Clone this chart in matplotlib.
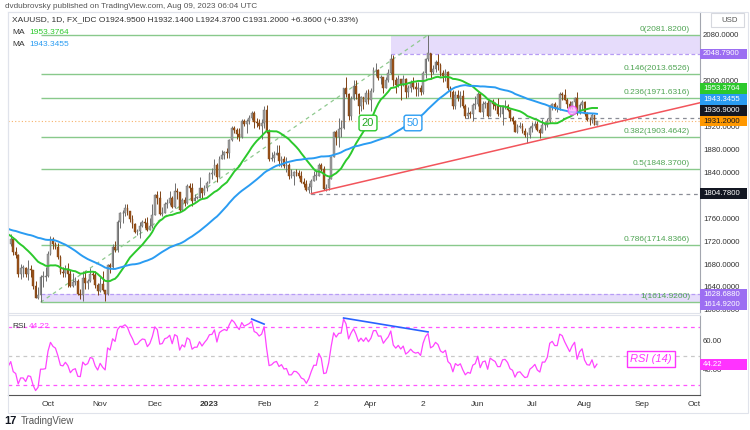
import numpy as np
import pandas as pd
import matplotlib
matplotlib.use("Agg")
import matplotlib.pyplot as plt
import matplotlib.transforms as mtransforms
from matplotlib.patches import Rectangle

plt.rcParams['font.family'] = ['Liberation Sans', 'DejaVu Sans']

# ---- data (XAUUSD daily) ----
# closes before the visible window, only used to warm up the MAs / RSI
warmup_close = [1811,
                1808, 1764, 1739, 1740, 1742,
                1733, 1725, 1735, 1711, 1708,
                1709, 1711, 1696, 1719, 1727,
                1719, 1717, 1735, 1756, 1766,
                1772, 1760, 1765, 1791, 1775,
                1789, 1794, 1792, 1789, 1802,
                1779, 1775, 1761, 1758, 1747,
                1736, 1748, 1751, 1758, 1737,
                1724, 1723, 1711, 1697, 1712,
                1710, 1702, 1718, 1708, 1717]

# visible bars, Sep 12 2022 -> Aug 8 2023, one week per row
close = [1725, 1702, 1697, 1665, 1675,
         1675, 1664, 1673, 1671, 1644,
         1623, 1628, 1660, 1660, 1661,
         1699, 1725, 1716, 1712, 1694,
         1668, 1666, 1674, 1665, 1644,
         1650, 1652, 1629, 1628, 1657,
         1649, 1652, 1665, 1663, 1645,
         1634, 1647, 1637, 1630, 1681,
         1676, 1712, 1706, 1755, 1771,
         1771, 1779, 1774, 1761, 1751,
         1738, 1740, 1749, 1755, 1754,
         1741, 1749, 1768, 1803, 1798,
         1769, 1771, 1786, 1789, 1797,
         1781, 1810, 1807, 1777, 1793,
         1788, 1818, 1814, 1792, 1798,
         1798, 1814, 1805, 1815, 1824,
         1839, 1840, 1855, 1833, 1865,
         1872, 1877, 1875, 1898, 1920,
         1916, 1909, 1904, 1932, 1926,
         1931, 1936, 1946, 1930, 1928,
         1923, 1928, 1951, 1912, 1865,
         1867, 1873, 1875, 1861, 1865,
         1853, 1854, 1836, 1836, 1842,
         1841, 1835, 1825, 1822, 1811,
         1817, 1827, 1836, 1836, 1855,
         1847, 1813, 1814, 1831, 1868,
         1913, 1904, 1918, 1919, 1989,
         1978, 1941, 1970, 1993, 1978,
         1957, 1973, 1964, 1980, 1969,
         1984, 2020, 2021, 2007, 2008,
         1990, 2003, 2015, 2040, 2004,
         1995, 2005, 1995, 2005, 1983,
         1989, 1998, 1991, 1988, 1990,
         1983, 2016, 2039, 2050, 2017,
         2022, 2035, 2030, 2015, 2011,
         2017, 1989, 1982, 1958, 1977,
         1971, 1975, 1957, 1941, 1946,
         1943, 1959, 1962, 1978, 1948,
         1961, 1963, 1940, 1966, 1961,
         1957, 1943, 1943, 1957, 1958,
         1951, 1936, 1932, 1913, 1921,
         1922, 1914, 1907, 1908, 1919,
         1922, 1926, 1915, 1911, 1925,
         1925, 1932, 1957, 1961, 1955,
         1955, 1979, 1977, 1969, 1962,
         1955, 1965, 1972, 1945, 1959,
         1965, 1944, 1934, 1933, 1942,
         1925, 1931.2]

high = [1735, 1729, 1712, 1700, 1682,
        1681, 1677, 1688, 1681, 1671,
        1653, 1641, 1662, 1670, 1677,
        1704, 1730, 1729, 1721, 1719,
        1698, 1677, 1680, 1683, 1672,
        1667, 1660, 1656, 1638, 1670,
        1669, 1656, 1675, 1670, 1669,
        1649, 1660, 1669, 1636, 1682,
        1683, 1717, 1722, 1758, 1772,
        1776, 1787, 1786, 1775, 1767,
        1753, 1743, 1755, 1759, 1762,
        1764, 1763, 1786, 1804, 1810,
        1809, 1782, 1791, 1795, 1810,
        1800, 1824, 1814, 1808, 1797,
        1799, 1822, 1823, 1823, 1804,
        1800, 1833, 1814, 1819, 1826,
        1842, 1850, 1865, 1859, 1870,
        1881, 1880, 1885, 1901, 1922,
        1922, 1920, 1919, 1935, 1935,
        1935, 1942, 1949, 1949, 1937,
        1935, 1935, 1957, 1960, 1918,
        1878, 1880, 1890, 1890, 1871,
        1870, 1869, 1858, 1847, 1845,
        1847, 1846, 1845, 1832, 1828,
        1824, 1831, 1845, 1844, 1858,
        1858, 1853, 1821, 1835, 1870,
        1914, 1915, 1937, 1933, 1990,
        2009, 1981, 1975, 2003, 2003,
        1980, 1975, 1974, 1986, 1987,
        1990, 2025, 2032, 2022, 2012,
        2007, 2009, 2022, 2048.79, 2047,
        2008, 2012, 2005, 2012, 2007,
        1994, 2004, 2009, 1999, 2000,
        1994, 2019, 2041, 2081.82, 2050,
        2030, 2038, 2048, 2033, 2021,
        2022, 2019, 1993, 1985, 1984,
        1985, 1984, 1985, 1961, 1956,
        1949, 1963, 1975, 1983, 1983,
        1966, 1966, 1969, 1969, 1970,
        1964, 1971, 1960, 1959, 1968,
        1961, 1953, 1941, 1934, 1926,
        1930, 1928, 1919, 1912, 1922,
        1930, 1932, 1931, 1919, 1935,
        1930, 1937, 1960, 1963, 1964,
        1959, 1983, 1982, 1987, 1972,
        1966, 1966, 1974, 1983, 1963,
        1969, 1966, 1947, 1938, 1946,
        1942, 1932.14]

low = [1713, 1697, 1692, 1659, 1655,
       1659, 1660, 1654, 1660, 1639,
       1622, 1620, 1614.92, 1641, 1653,
       1659, 1697, 1708, 1708, 1691,
       1665, 1660, 1660, 1642, 1641,
       1641, 1646, 1627, 1621, 1618,
       1638, 1639, 1651, 1656, 1640,
       1627, 1633, 1634, 1617, 1628,
       1666, 1673, 1703, 1703, 1745,
       1754, 1765, 1767, 1755, 1745,
       1736, 1733, 1727, 1746, 1745,
       1739, 1741, 1744, 1767, 1787,
       1767, 1765, 1771, 1780, 1785,
       1779, 1779, 1796, 1773, 1774,
       1784, 1786, 1807, 1784, 1792,
       1796, 1797, 1797, 1803, 1809,
       1824, 1830, 1838, 1825, 1833,
       1866, 1866, 1867, 1867, 1896,
       1910, 1900, 1897, 1902, 1922,
       1911, 1927, 1933, 1919, 1921,
       1917, 1900, 1920, 1910, 1861,
       1861, 1860, 1872, 1853, 1852,
       1850, 1843, 1830, 1832, 1819,
       1835, 1832, 1823, 1817, 1809,
       1805, 1804.78, 1826, 1829, 1835,
       1844, 1811, 1809, 1811, 1832,
       1869, 1890, 1886, 1904, 1918,
       1973, 1934, 1934, 1968, 1970,
       1944, 1949, 1952, 1961, 1962,
       1949, 1983, 2010, 2003, 1997,
       1981, 1989, 1999, 2014, 1992,
       1981, 1991, 1969, 1992, 1972,
       1974, 1982, 1987, 1975, 1975,
       1977, 1979, 2007, 2036, 2005,
       2014, 2017, 2020, 2010, 2000,
       2001, 1985, 1973, 1952, 1952,
       1966, 1956, 1955, 1936, 1937,
       1937, 1932, 1952, 1958, 1947,
       1938, 1955, 1939, 1940, 1953,
       1951, 1940, 1939, 1925, 1952,
       1949, 1931, 1926, 1912, 1910,
       1919, 1910, 1903, 1893, 1902,
       1912, 1920, 1914, 1902, 1910,
       1916, 1921, 1928, 1951, 1950,
       1947, 1951, 1969, 1968, 1954,
       1953, 1952, 1955, 1942, 1943,
       1953, 1941, 1932, 1925, 1928,
       1924, 1924.37]

last_open = 1924.95

fib_levels = [0, 0.146, 0.236, 0.382, 0.5, 0.786, 1]
fib_prices = [2081.82, 2013.6526, 1971.6316, 1903.4642, 1848.37, 1714.8366, 1614.92]
fib_start = '2022-09-28'
fib_end = '2023-05-04'

box_top = [2048.79, 2081.82]        # upper purple zone (from Apr 13)
box_bottom = [1614.92, 1628.688]    # lower purple zone (from Sep 28)
support_dates = ['2023-02-28', '2023-06-29']
support_prices = [1804.78, 1893.0]
hline_1804 = 1804.78
hline_1936 = 1936.90
hline_1936_start = '2023-05-25'

rsi_div_dates = [['2023-01-25', '2023-02-01'], ['2023-03-17', '2023-05-04']]
rsi_div_values = [[75.5, 72.0], [76.2, 66.6]]
rsi_last = 44.22

# right axis labels that are not hidden behind a price tag
price_ticks = [1600, 1640, 1680, 1720, 1760, 1840, 1880, 1920, 2000, 2080]

tick_dates = ['2022-10-03', '2022-11-01', '2022-12-01', '2023-01-02', '2023-02-01',
              '2023-03-02', '2023-04-03', '2023-05-02', '2023-06-01', '2023-07-03',
              '2023-08-01', '2023-09-01', '2023-10-02']
tick_labels = ['Oct', 'Nov', 'Dec', '2023', 'Feb', '2', 'Apr', '2', 'Jun', 'Jul',
               'Aug', 'Sep', 'Oct']

assert len(close) == len(high) == len(low)

# ---- series ----
n_warm = len(warmup_close)
all_close = pd.Series(warmup_close + close, dtype=float)
dates = pd.bdate_range('2022-07-01', periods=len(all_close) + 60)
pos = {d.strftime('%Y-%m-%d'): i for i, d in enumerate(dates)}

ma20 = all_close.rolling(20).mean()
ma50 = all_close.rolling(50).mean()
delta = all_close.diff()
up = delta.clip(lower=0).ewm(alpha=1 / 14, adjust=False).mean()
dn = (-delta.clip(upper=0)).ewm(alpha=1 / 14, adjust=False).mean()
rsi = 100 - 100 / (1 + up / dn)

c = np.array(close, dtype=float)
o = all_close.values[n_warm - 1:-1].copy()
o[-1] = last_open
h = np.maximum(np.array(high, dtype=float), np.maximum(o, c))
l = np.minimum(np.array(low, dtype=float), np.minimum(o, c))
xs = np.arange(n_warm, n_warm + len(c))

# ---- layout (pixels of a 750x430 picture) ----
W, H = 750, 430
i0 = pos['2022-10-03']
PXB = 2.484                          # px per bar
PPU = 0.5727                         # px per price unit


def px2price(y):
    return 2080 - (y - 36) / PPU


def px2rsi(y):
    return 70 - (y - 327) / 1.45


xlim = (i0 - (48 - 8) / PXB, i0 + (700 - 48) / PXB)
x_right = xlim[1]

fig = plt.figure(figsize=(W / 100, H / 100), dpi=100)
fig.patch.set_facecolor('white')
ax = fig.add_axes([8 / W, 1 - 313 / H, 692 / W, 301 / H])
rax = fig.add_axes([8 / W, 1 - 395 / H, 692 / W, 80 / H])

for a in (ax, rax):
    a.set_xlim(*xlim)
    a.set_facecolor('white')
    for s in a.spines.values():
        s.set_color('#e0e3eb')
        s.set_linewidth(0.8)
    a.spines['right'].set_color('#a3a6af')
    a.tick_params(left=False, right=False, labelleft=False)
ax.set_xticks([])
rax.spines['bottom'].set_color('#555555')

ax.set_ylim(px2price(313), px2price(12))
rax.set_ylim(px2rsi(395), px2rsi(315))

fib_green = '#89c98b'
fib_text = '#4fa453'
purple = '#9c6ef2'

# purple zones
x_box1 = pos['2023-04-13']
ax.add_patch(Rectangle((x_box1, box_top[0]), x_right - x_box1, box_top[1] - box_top[0],
                       facecolor='#e6dcfb', edgecolor='none', zorder=1))
ax.hlines(box_top[0], x_box1, x_right, colors='#b79cf5', linestyles=(0, (3, 2)), lw=0.9, zorder=2)
x_box2 = pos[fib_start]
ax.add_patch(Rectangle((x_box2, box_bottom[0]), x_right - x_box2, box_bottom[1] - box_bottom[0],
                       facecolor='#e6dcfb', edgecolor='none', zorder=1))
ax.hlines(box_bottom[1], x_box2, x_right, colors='#b79cf5', linestyles=(0, (3, 2)), lw=0.9, zorder=2)

# fibonacci levels
x_fib = pos[fib_start]
ax.hlines(fib_prices, x_fib, x_right, colors=fib_green, lw=1.0, zorder=2)
x_lab = i0 + (690 - 48) / PXB
off = mtransforms.offset_copy(ax.transData, fig=fig, x=0, y=1.5, units='points')
for lvl, p in zip(fib_levels, fib_prices):
    ax.text(x_lab, p, '%g(%.4f)' % (lvl, p), transform=off, ha='right', va='bottom',
            fontsize=6, color=fib_text, zorder=6)
ax.plot([pos[fib_start], pos[fib_end]], [fib_prices[-1], fib_prices[0]],
        color='#8fc98f', lw=0.9, ls=(0, (3, 3)), zorder=2)

# last price line
ax.axhline(close[-1], color='#f7b26b', lw=0.8, ls=(0, (1, 2)), zorder=2)

# horizontal dashed levels
ax.hlines(hline_1804, pos[support_dates[0]], x_right, colors='#8a8d96', lw=0.9,
          linestyles=(0, (3, 3)), zorder=2)
ax.hlines(hline_1936, pos[hline_1936_start], x_right, colors='#8a8d96', lw=0.9,
          linestyles=(0, (3, 3)), zorder=2)

# support trendline, extended to the right edge
sx = [pos[d] for d in support_dates]
slope = (support_prices[1] - support_prices[0]) / (sx[1] - sx[0])
ax.plot([sx[0], x_right], [support_prices[0], support_prices[0] + slope * (x_right - sx[0])],
        color='#f2545b', lw=1.1, zorder=4)

# candles
up_bar = c >= o
body_col = np.where(up_bar, '#9d9d9d', '#9a5218')
wick_col = np.where(up_bar, '#6e6e6e', '#7e4314')
ax.vlines(xs, l, h, colors=wick_col, lw=0.7, zorder=3)
ax.bar(xs, np.maximum(np.abs(c - o), 0.8), bottom=np.minimum(o, c), width=0.72,
       color=body_col, edgecolor=wick_col, linewidth=0.3, zorder=3)

# moving averages
green = '#2cc92c'
blue = '#2a9cf2'
xv = np.arange(len(all_close))
ax.plot(xv, ma20, color=green, lw=1.4, zorder=5)
ax.plot(xv, ma50, color=blue, lw=1.4, zorder=5)

# MA labels
ax.text(i0 + (368 - 48) / PXB, px2price(123), '20', ha='center', va='center', fontsize=8,
        color='#22a822', zorder=7,
        bbox=dict(boxstyle='round,pad=0.25,rounding_size=0.2', fc='white', ec=green, lw=1.0))
ax.text(i0 + (413 - 48) / PXB, px2price(123), '50', ha='center', va='center', fontsize=8,
        color=blue, zorder=7,
        bbox=dict(boxstyle='round,pad=0.25,rounding_size=0.2', fc='white', ec=blue, lw=1.0))

# crossover circle
ax.scatter([pos['2023-07-25']], [px2price(110)], s=40, facecolor='#ffb3ff', edgecolor='#ff4dff',
           linewidth=0.9, alpha=0.8, zorder=6)

# price axis labels
trans = mtransforms.blended_transform_factory(ax.transAxes, ax.transData)
for p in price_ticks:
    ax.text(1 + 3 / 692, p, '%.4f' % p, transform=trans, ha='left', va='center',
            fontsize=5.6, color='#333333', clip_on=False, zorder=8)


def tag(a, tr, y, text, bg, fg, hgt):
    a.add_patch(Rectangle((1.0, y - hgt / 2), 47 / 692, hgt, transform=tr, facecolor=bg,
                          edgecolor='none', clip_on=False, zorder=9))
    a.text(1 + 3 / 692, y, text, transform=tr, ha='left', va='center', fontsize=5.6,
           color=fg, clip_on=False, zorder=10)


th = 10.5 / PPU
tag(ax, trans, box_top[0], '2048.7900', purple, 'white', th)
tag(ax, trans, hline_1804, '1804.7800', '#131722', 'white', th)
tag(ax, trans, box_bottom[1], '1628.6880', purple, 'white', th)
tag(ax, trans, min(box_bottom[0], box_bottom[1] - th), '1614.9200', purple, 'white', th)
# stacked tags near the last price
stack = [(close[-1], '1931.2000', '#ff9800', '#131722'),
         (hline_1936, '1936.9000', '#131722', 'white'),
         (ma50.iloc[-1], '1943.3455', blue, 'white'),
         (ma20.iloc[-1], '1953.3764', green, 'white')]
prev = None
for p, t, bg, fg in stack:
    yy = p if prev is None else max(p, prev + th * 1.04)
    tag(ax, trans, yy, t, bg, fg, th)
    prev = yy

# ---- RSI pane ----
rax.plot(xv, rsi, color='#ff44ff', lw=0.9, zorder=4)
for lv, col in ((70, '#ff55ff'), (30, '#ff55ff'), (50, '#c8c8c8')):
    rax.axhline(lv, color=col, lw=0.9, ls=(0, (3, 3)), zorder=2)
for dd, vv in zip(rsi_div_dates, rsi_div_values):
    rax.plot([pos[dd[0]], pos[dd[1]]], vv, color='#2962ff', lw=1.2, zorder=5)
rtrans = mtransforms.blended_transform_factory(rax.transAxes, rax.transData)
for p in (60, 40):
    rax.text(1 + 3 / 692, p, '%.2f' % p, transform=rtrans, ha='left', va='center',
             fontsize=5.6, color='#333333', clip_on=False)
tag(rax, rtrans, rsi_last, '%.2f' % rsi_last, '#ff33ff', 'white', 10.5 / 1.45)
rax.text(i0 + (651 - 48) / PXB, px2rsi(359), 'RSI (14)', ha='center', va='center',
         fontsize=8, style='italic', color='#ff33ff', zorder=6,
         bbox=dict(boxstyle='square,pad=0.25', fc='white', ec='#ff33ff', lw=1.0))

rax.set_xticks([pos[d] for d in tick_dates])
rax.set_xticklabels(tick_labels, fontsize=6, color='#333333')
rax.tick_params(axis='x', length=0, pad=4)
for lab in rax.get_xticklabels():
    if lab.get_text() == '2023':
        lab.set_fontweight('bold')

# ---- texts outside the panes ----
def ftext(x, y, s, **kw):
    fig.text(x / W, 1 - y / H, s, va='center', **kw)


ftext(5, 6, 'dvdubrovsky published on TradingView.com, Aug 09, 2023 06:04 UTC',
      fontsize=5.9, color='#555555')
ftext(12, 20, 'XAUUSD, 1D, FX_IDC O1924.9500 H1932.1400 L1924.3700 C1931.2000 +6.3600 (+0.33%)',
      fontsize=6, color='#333333')
ftext(12, 33, 'MA', fontsize=6, color='#333333')
ftext(29, 33, '1953.3764', fontsize=6, color=green)
ftext(12, 44, 'MA', fontsize=6, color='#333333')
ftext(29, 44, '1943.3455', fontsize=6, color=blue)
ftext(12, 327, 'RSI', fontsize=6, color='#333333')
ftext(29, 327, '44.22', fontsize=6, color='#ff33ff')
ftext(721, 20, 'USD', fontsize=5.6, color='#555555')
fig.patches.append(Rectangle((711 / W, 1 - 27 / H), 33 / W, 14 / H, transform=fig.transFigure,
                             facecolor='none', edgecolor='#d6d8de', lw=0.8))
fig.patches.append(Rectangle((8 / W, 1 - 413 / H), 740 / W, 401 / H, transform=fig.transFigure,
                             facecolor='none', edgecolor='#e0e3eb', lw=0.8))
ftext(4, 421, '17', fontsize=8, fontweight='bold', color='#131722')
ftext(21, 421, 'TradingView', fontsize=7, color='#555555')

fig.savefig('out.png', dpi=100)
